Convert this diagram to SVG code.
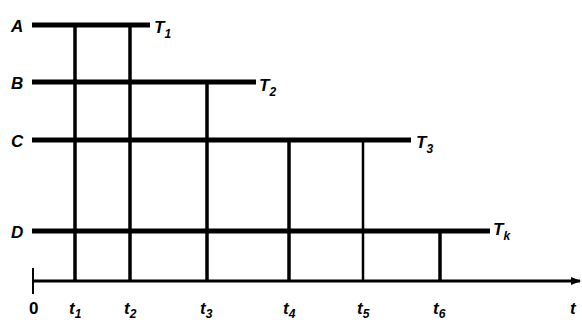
<svg xmlns="http://www.w3.org/2000/svg" width="582" height="320" viewBox="0 0 582 320">
<defs>
<style>
.h{stroke:#000;stroke-width:5;fill:none}
.v{stroke:#000;stroke-width:3.5;fill:none}
.ax{stroke:#000;stroke-width:3;fill:none}
.lb{font-family:"Liberation Sans",Arial,sans-serif;font-weight:bold;font-style:italic;font-size:17px;fill:#000}
.sb{font-size:12px}
</style>
<marker id="arr" markerWidth="10" markerHeight="8" refX="9" refY="4" orient="auto" markerUnits="userSpaceOnUse">
<path d="M0,0 L10,4 L0,8 z" fill="#000"/>
</marker>
</defs>
<rect width="582" height="320" fill="#fff"/>
<g id="connectors">
<line class="v" x1="75" y1="25" x2="75" y2="281"/>
<line class="v" x1="130" y1="25" x2="130" y2="281"/>
<line class="v" x1="207" y1="82" x2="207" y2="281"/>
<line class="v" x1="289" y1="140" x2="289" y2="281"/>
<line class="v" x1="363" y1="140" x2="363" y2="281" style="stroke-width:2.5"/>
<line class="v" x1="440" y1="231" x2="440" y2="281"/>
</g>
<g id="A"><text class="lb" x="11" y="32">A</text><line class="h" x1="32" y1="25" x2="150" y2="25"/><text class="lb" x="154" y="33">T<tspan class="sb" dy="5">1</tspan></text></g>
<g id="B"><text class="lb" x="11" y="89">B</text><line class="h" x1="32" y1="82" x2="256" y2="82"/><text class="lb" x="259" y="91">T<tspan class="sb" dy="5">2</tspan></text></g>
<g id="C"><text class="lb" x="11" y="147">C</text><line class="h" x1="32" y1="140" x2="411" y2="140"/><text class="lb" x="416" y="148">T<tspan class="sb" dy="5">3</tspan></text></g>
<g id="D"><text class="lb" x="11" y="238">D</text><line class="h" x1="32" y1="231" x2="490" y2="231"/><text class="lb" x="493" y="235">T<tspan class="sb" dy="5">k</tspan></text></g>
<g id="axis">
<line class="ax" x1="33" y1="268" x2="33" y2="294" style="stroke-width:2"/>
<line class="ax" x1="33" y1="281" x2="580" y2="281" marker-end="url(#arr)"/>
<text class="lb" x="29" y="314" style="font-style:normal">0</text>
<text class="lb" x="69" y="314">t<tspan class="sb" dy="4">1</tspan></text>
<text class="lb" x="124" y="314">t<tspan class="sb" dy="4">2</tspan></text>
<text class="lb" x="200" y="314">t<tspan class="sb" dy="4">3</tspan></text>
<text class="lb" x="283" y="314">t<tspan class="sb" dy="4">4</tspan></text>
<text class="lb" x="357" y="314">t<tspan class="sb" dy="4">5</tspan></text>
<text class="lb" x="433" y="314">t<tspan class="sb" dy="4">6</tspan></text>
<text class="lb" x="570" y="314">t</text>
</g>
</svg>
